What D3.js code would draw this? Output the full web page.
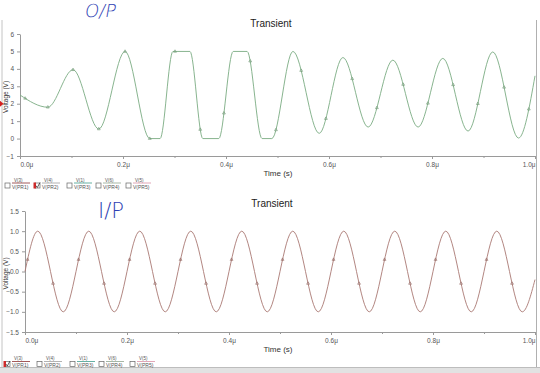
<!DOCTYPE html>
<html>
<head>
<meta charset="utf-8">
<script src="https://cdn.jsdelivr.net/npm/d3@7"></script>
<style>
  body { margin: 0; background: #fff; }
  svg { display: block; font-family: "Liberation Sans", Arial, sans-serif; }
</style>
</head>
<body>
<div></div>
<script>
const WIDTH = 540;
const HEIGHT = 373;

// O/P trace (top panel) : time in µs, voltage in V
const outTime = [0, 0.054, 0.103, 0.153, 0.204, 0.252, 0.272, 0.297, 0.330, 0.355, 0.386, 0.414, 0.441,
  0.470, 0.489, 0.530, 0.581, 0.627, 0.676, 0.724, 0.773, 0.821, 0.870, 0.918, 0.968, 1.0];
const outVolt = [2.5, 1.8, 3.95, 0.55, 5.0, 0, 0, 5, 5, 0, 0, 5, 5,
  0, 0, 5.0, 0.3, 4.65, 0.66, 4.5, 0.66, 4.6, 0.43, 4.97, 0.03, 3.6];
const outMarks = [0.01, 0.054, 0.103, 0.153, 0.204, 0.252, 0.301, 0.35, 0.396, 0.447, 0.497, 0.546,
  0.594, 0.645, 0.693, 0.744, 0.792, 0.841, 0.889, 0.94, 0.988];
const outTicksY = [-1, 0, 1, 2, 3, 4, 5, 6];

// I/P trace (bottom panel)
const inTime = [0, 0.025, 0.075, 0.125, 0.175, 0.225, 0.275, 0.325, 0.375, 0.425, 0.475, 0.525,
  0.575, 0.625, 0.675, 0.725, 0.775, 0.825, 0.875, 0.925, 0.975, 1.0];
const inVolt = [0, 1, -1, 1, -1, 1, -1, 1, -1, 1, -1, 1,
  -1, 1, -1, 1, -1, 1, -1, 1, -1, -0.2];
const inMarks = [0.005, 0.055, 0.105, 0.155, 0.205, 0.255, 0.305, 0.355, 0.405, 0.455, 0.505,
  0.555, 0.605, 0.655, 0.705, 0.755, 0.805, 0.855, 0.905, 0.955];
const inTicksY = [-1.5, -1.0, -0.5, 0.0, 0.5, 1.0, 1.5];

const timeTicks = [0, 0.2, 0.4, 0.6, 0.8, 1.0];
const timeMinor = [0.1, 0.3, 0.5, 0.7, 0.9];
const legendTop = ["V(3)", "V(4)", "V(1)", "V(6)", "V(5)"];
const legendBottom = ["V(PR1)", "V(PR2)", "V(PR3)", "V(PR4)", "V(PR5)"];
const legendColors = ["#8b3030", "#a0a0a0", "#3f9c8c", "#8fa48f", "#d890a4"];

const svg = d3.select("div").append("svg")
  .attr("width", WIDTH)
  .attr("height", HEIGHT);

// window frame
svg.append("line").attr("x1", 2).attr("x2", 2).attr("y1", 20).attr("y2", 367)
  .attr("stroke", "#c4c4c4");
svg.append("line").attr("x1", 536.5).attr("x2", 536.5).attr("y1", 20).attr("y2", 367)
  .attr("stroke", "#b0b0b0");
svg.append("rect").attr("x", 0).attr("y", 367).attr("width", WIDTH).attr("height", 6)
  .attr("fill", "#e2e2e2");
svg.append("line").attr("x1", 0).attr("x2", WIDTH).attr("y1", 367.5).attr("y2", 367.5)
  .attr("stroke", "#bdbdbd");

function pointAtX(node, xt) {
  let lo = 0, hi = node.getTotalLength();
  for (let k = 0; k < 30; k++) {
    const mid = (lo + hi) / 2;
    if (node.getPointAtLength(mid).x < xt) lo = mid; else hi = mid;
  }
  return node.getPointAtLength(lo);
}

function panel(p) {
  const x = d3.scaleLinear().domain([0, 1]).range([p.left, p.right]);
  const y = d3.scaleLinear().domain(p.yDomain).range([p.bottom, p.top]);
  const g = svg.append("g");

  // y axis
  g.append("g").attr("transform", `translate(${p.left},0)`)
    .call(d3.axisLeft(y).tickValues(p.ticksY).tickSize(3).tickSizeOuter(0).tickFormat(p.yFormat));
  // x axis
  const xa = g.append("g").attr("transform", `translate(0,${p.bottom})`)
    .call(d3.axisBottom(x).tickValues(timeTicks).tickSize(3).tickSizeOuter(0)
      .tickFormat(d => d3.format(".1f")(d) + "μ"));
  g.append("g").attr("transform", `translate(0,${p.bottom})`)
    .call(d3.axisBottom(x).tickValues(timeMinor).tickSize(2).tickFormat(""))
    .select(".domain").remove();

  g.selectAll(".domain, .tick line").attr("stroke", "#9a9a9a");
  g.selectAll(".tick text").attr("fill", "#555").style("font-size", "6.5px");
  xa.selectAll(".tick text").attr("text-anchor", (d, i) => i === 0 ? "start" : (i === timeTicks.length - 1 ? "end" : "middle"));

  // labels
  g.append("text").attr("x", p.titleX).attr("y", p.titleY).attr("text-anchor", "middle")
    .style("font-size", "10px").attr("fill", "#222").text("Transient");
  g.append("text").attr("x", 278).attr("y", p.bottom + 20).attr("text-anchor", "middle")
    .style("font-size", "8px").attr("fill", "#333").text("Time (s)");
  g.append("text").attr("transform", `translate(8,${(p.top + p.bottom) / 2 + 2}) rotate(-90)`)
    .attr("text-anchor", "middle").style("font-size", "6.5px").attr("fill", "#333").text("Voltage (V)");

  // trace
  const line = d3.line().x((d, i) => x(p.time[i])).y(d => y(d)).curve(d3.curveMonotoneX);
  const path = g.append("path").datum(p.volt)
    .attr("d", line)
    .attr("fill", "none")
    .attr("stroke", p.color)
    .attr("stroke-width", 0.9);

  const node = path.node();
  g.selectAll(".mark").data(p.marks).enter().append("path")
    .attr("class", "mark")
    .attr("d", d3.symbol(d3.symbolTriangle).size(3.5))
    .attr("transform", d => {
      const pt = pointAtX(node, x(d));
      return `translate(${pt.x},${pt.y})`;
    })
    .attr("fill", "none")
    .attr("stroke", p.markColor)
    .attr("stroke-width", 0.6);

  // legend
  const lg = g.selectAll(".leg").data(legendTop).enter().append("g")
    .attr("transform", (d, i) => `translate(${p.legendX[i]},${p.legendY})`);
  lg.append("rect").attr("x", 0).attr("y", -2.5).attr("width", 5).attr("height", 5)
    .attr("fill", "#fff").attr("stroke", "#666").attr("stroke-width", 0.7);
  lg.append("text").attr("x", 9).attr("y", -4).style("font-size", "4.5px").attr("fill", "#555").text(d => d);
  lg.append("line").attr("x1", 7).attr("x2", 25).attr("y1", -2.5).attr("y2", -2.5)
    .attr("stroke", (d, i) => legendColors[i]).attr("stroke-width", 0.8);
  lg.append("text").attr("x", 7).attr("y", 3).style("font-size", "5px").attr("fill", "#555")
    .text((d, i) => legendBottom[i]);
  const chk = lg.filter((d, i) => i === p.checked);
  chk.append("rect").attr("x", -1.5).attr("y", -3).attr("width", 2.5).attr("height", 6).attr("fill", "#d02a2a");
  chk.append("path").attr("d", "M0.8,0 L2.3,2 L5,-3").attr("fill", "none").attr("stroke", "#333").attr("stroke-width", 0.8);

  return { x, y };
}

const topPanel = panel({
  left: 20, right: 535, top: 34, bottom: 156,
  yDomain: [-1, 6], ticksY: outTicksY, yFormat: d3.format("d"),
  time: outTime, volt: outVolt, marks: outMarks,
  color: "#7aab82", markColor: "#6a946f",
  titleX: 271, titleY: 27,
  legendX: [5, 35, 67, 96, 126], legendY: 185.5, checked: 1
});

const bottomPanel = panel({
  left: 25, right: 535, top: 211, bottom: 332,
  yDomain: [-1.5, 1.5], ticksY: inTicksY, yFormat: d3.format(".1f"),
  time: inTime, volt: inVolt, marks: inMarks,
  color: "#a97873", markColor: "#926460",
  titleX: 272, titleY: 207,
  legendX: [5, 37, 70, 99, 130], legendY: 364, checked: 0
});

// red cursor tag on the top panel
svg.append("path")
  .attr("d", `M0,${topPanel.y(2) - 3} L3.5,${topPanel.y(2)} L0,${topPanel.y(2) + 3} Z`)
  .attr("fill", "#d42020");

// handwritten notes
svg.append("text").attr("transform", "translate(84,17) skewX(-10)")
  .style("font-family", "'DejaVu Sans ExtraLight', 'DejaVu Sans', sans-serif").style("font-weight", 200)
  .style("font-size", "18px")
  .attr("fill", "#2f3fb4").text("O/P");
svg.append("text").attr("x", 98).attr("y", 218)
  .style("font-family", "'DejaVu Sans ExtraLight', 'DejaVu Sans', sans-serif").style("font-weight", 200)
  .style("font-size", "21px")
  .attr("fill", "#2f3fb4").text("I/P");
</script>
</body>
</html>
